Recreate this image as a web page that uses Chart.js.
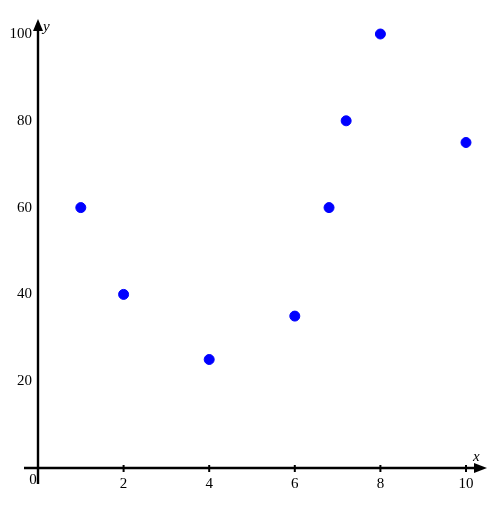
<!DOCTYPE html>
<html>
<head>
<meta charset="utf-8">
<script src="https://cdn.jsdelivr.net/npm/chart.js@4.4.1/dist/chart.umd.min.js"></script>
<style>
  html, body { margin: 0; padding: 0; background: #fff; }
  #wrap { width: 504px; height: 509px; }
</style>
</head>
<body>
<div id="wrap"><canvas id="c" width="504" height="509"></canvas></div>
<script>
var xValues = [1, 2, 4, 6, 6.8, 7.2, 8, 10];
var yValues = [60, 40, 25, 35, 60, 80, 100, 75];
var xTicks = [2, 4, 6, 8, 10];
var yTicks = [20, 40, 60, 80, 100];

var FONT = "'Liberation Serif', 'Times New Roman', serif";

var points = xValues.map(function (x, i) { return { x: x, y: yValues[i] }; });

// axis lines with arrows, tick marks, origin label and axis names
var axesPlugin = {
  id: "axes",
  beforeDatasetsDraw: function (chart) {
    var ctx = chart.ctx;
    var xs = chart.scales.x, ys = chart.scales.y;
    var ox = xs.getPixelForValue(0), oy = ys.getPixelForValue(0);
    ctx.save();
    ctx.strokeStyle = "#000";
    ctx.fillStyle = "#000";
    ctx.lineWidth = 2.4;

    // x axis
    ctx.beginPath();
    ctx.moveTo(ox - 14, oy);
    ctx.lineTo(xs.right + 10, oy);
    ctx.stroke();
    ctx.beginPath();
    ctx.moveTo(xs.right + 21, oy);
    ctx.lineTo(xs.right + 8, oy - 5);
    ctx.lineTo(xs.right + 8, oy + 5);
    ctx.closePath();
    ctx.fill();

    // y axis
    ctx.beginPath();
    ctx.moveTo(ox, oy + 16);
    ctx.lineTo(ox, ys.top - 6);
    ctx.stroke();
    ctx.beginPath();
    ctx.moveTo(ox, ys.top - 15);
    ctx.lineTo(ox - 5, ys.top - 3);
    ctx.lineTo(ox + 5, ys.top - 3);
    ctx.closePath();
    ctx.fill();

    // x tick marks
    ctx.lineWidth = 2;
    xTicks.forEach(function (v) {
      var px = xs.getPixelForValue(v);
      ctx.beginPath();
      ctx.moveTo(px, oy - 3);
      ctx.lineTo(px, oy + 4);
      ctx.stroke();
    });

    ctx.font = "15px " + FONT;
    ctx.textAlign = "center";
    ctx.textBaseline = "top";
    ctx.fillText("0", ox - 5, oy + 5);

    ctx.font = "italic 15px " + FONT;
    ctx.textAlign = "left";
    ctx.textBaseline = "alphabetic";
    ctx.fillText("x", xs.right + 7, oy - 7);
    ctx.fillText("y", ox + 5, ys.top - 3);
    ctx.restore();
  },
};

new Chart(document.getElementById("c"), {
  type: "scatter",
  data: {
    datasets: [{
      data: points,
      backgroundColor: "#0000ff",
      borderColor: "#0000ff",
      pointRadius: 5,
      pointHoverRadius: 5,
      clip: false,
    }],
  },
  options: {
    responsive: false,
    animation: false,
    events: [],
    layout: { padding: { left: 0, right: 38, top: 34, bottom: 0 } },
    plugins: { legend: { display: false }, tooltip: { enabled: false } },
    scales: {
      x: {
        type: "linear",
        min: 0,
        max: 10,
        afterFit: function (s) { s.height = 41; },
        afterBuildTicks: function (s) {
          s.ticks = xTicks.map(function (v) { return { value: v }; });
        },
        grid: { display: false, drawTicks: false },
        border: { display: false },
        ticks: { color: "#000", font: { family: FONT, size: 15 }, padding: 7, maxRotation: 0 },
      },
      y: {
        type: "linear",
        min: 0,
        max: 100,
        afterFit: function (s) { s.width = 38; },
        afterBuildTicks: function (s) {
          s.ticks = yTicks.map(function (v) { return { value: v }; });
        },
        grid: { display: false, drawTicks: false },
        border: { display: false },
        ticks: { color: "#000", font: { family: FONT, size: 15 }, padding: 6 },
      },
    },
  },
  plugins: [axesPlugin],
});
</script>
</body>
</html>
